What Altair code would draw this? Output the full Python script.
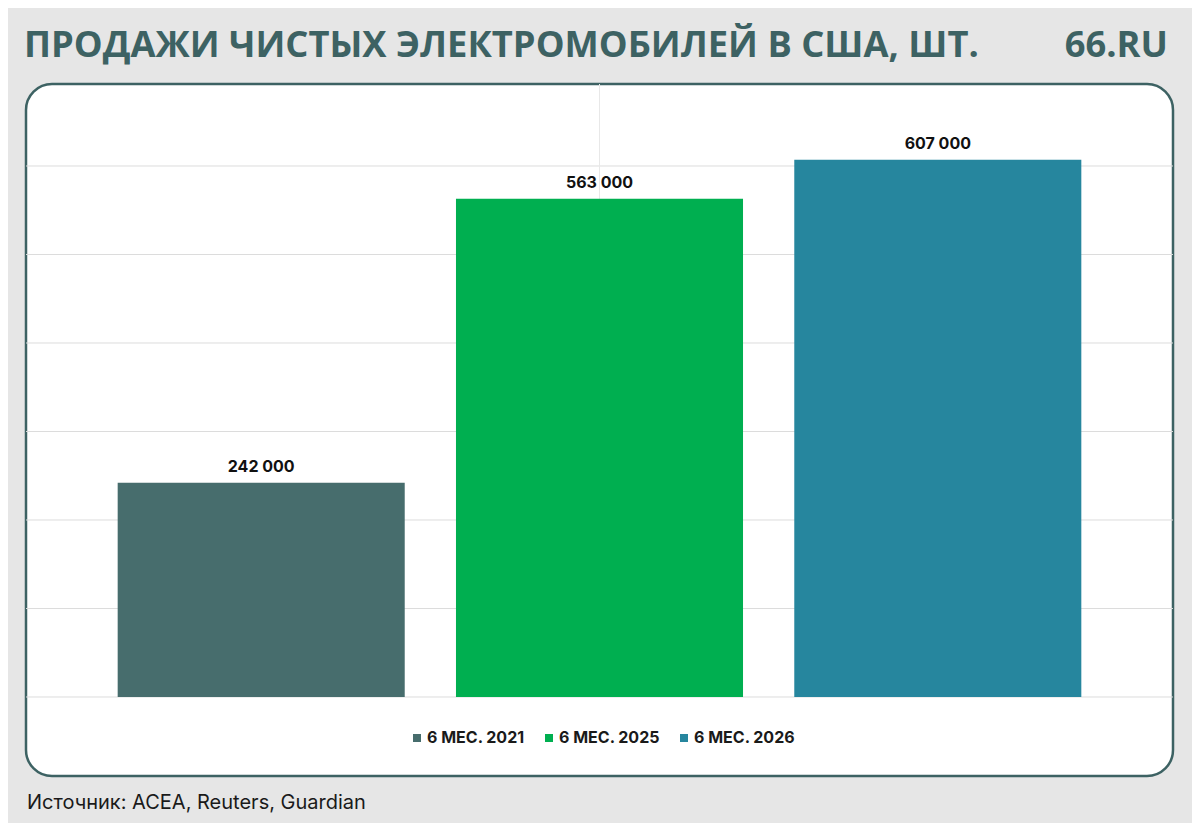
import altair as alt
import pandas as pd

categories = ["6 МЕС. 2021", "6 МЕС. 2025", "6 МЕС. 2026"]
values = [242000, 563000, 607000]
labels = ["242 000", "563 000", "607 000"]
colors = ["#476d6d", "#00af50", "#26869e"]
grid_values = [0, 100000, 200000, 300000, 400000, 500000, 600000]

TITLE = "ПРОДАЖИ ЧИСТЫХ ЭЛЕКТРОМОБИЛЕЙ В США, ШТ."
BRAND = "66.RU"
SOURCE = "Источник: ACEA, Reuters, Guardian"

W, H = 1147, 692
Y_DOMAIN = [-89266, 692655]

df = pd.DataFrame({"cat": categories, "val": values, "lab": labels})
grid_df = pd.DataFrame({"g": grid_values})

x_scale = alt.Scale(domain=categories, paddingInner=0.1515, paddingOuter=0.271)
y_scale = alt.Scale(domain=Y_DOMAIN, nice=False, zero=False)

base = alt.Chart(df)

grid = alt.Chart(grid_df).mark_rule(color="#dcdcdc", strokeWidth=1).encode(
    y=alt.Y("g:Q", scale=y_scale, axis=None, title=None),
    x=alt.value(0), x2=alt.value(W),
)

vline = base.transform_filter(alt.datum.cat == categories[1]).mark_rule(
    color="#e8e8e8", strokeWidth=1).encode(
    x=alt.X("cat:N", scale=x_scale, axis=None, title=None),
    y=alt.value(0),
    y2=alt.value(400),
)

bars = base.mark_bar().encode(
    x=alt.X("cat:N", scale=x_scale, axis=None, title=None),
    y=alt.Y("val:Q", scale=y_scale, axis=None, title=None),
    color=alt.Color("cat:N",
                    scale=alt.Scale(domain=categories, range=colors),
                    legend=alt.Legend(
                        title=None, orient="none", direction="horizontal",
                        legendX=383, legendY=646,
                        symbolType="square", symbolSize=64,
                        labelFont="Inter",
                        labelFontSize=16, labelFontWeight="bold",
                        labelColor="#1a1a1a", labelOffset=2,
                        columnPadding=16)),
)

vals = base.mark_text(font="Inter", fontSize=16, fontWeight="bold",
                      color="#111111", baseline="alphabetic", dy=-11).encode(
    x=alt.X("cat:N", scale=x_scale, axis=None, title=None),
    y=alt.Y("val:Q", scale=y_scale, axis=None, title=None),
    text="lab:N",
)

title = alt.Chart(pd.DataFrame({"t": [TITLE]})).mark_text(
    font="Open Sans", fontSize=36.3, fontWeight="bold", color="#3d6263",
    align="left", baseline="alphabetic").encode(
    x=alt.value(-2), y=alt.value(-27), text="t:N")

brand = alt.Chart(pd.DataFrame({"t": [BRAND]})).mark_text(
    font="Open Sans", fontSize=36.3, fontWeight="bold", color="#3d6263",
    align="right", baseline="alphabetic").encode(
    x=alt.value(1142), y=alt.value(-27), text="t:N")

source = alt.Chart(pd.DataFrame({"t": [SOURCE]})).mark_text(
    font="Inter", fontSize=20, color="#1a1a1a",
    align="left", baseline="alphabetic").encode(
    x=alt.value(1), y=alt.value(725), text="t:N")

chart = alt.layer(grid, vline, bars, vals, title, brand, source).properties(
    width=W, height=H,
    autosize=alt.AutoSizeParams(type="none"),
    padding={"left": 18, "top": 76, "right": 19, "bottom": 47},
    background="#e6e6e6",
).configure_view(
    fill="white", stroke="#3d6263", strokeWidth=2.5, cornerRadius=26,
)

chart.save("out.html", embed_options={"renderer": "svg", "actions": False})
